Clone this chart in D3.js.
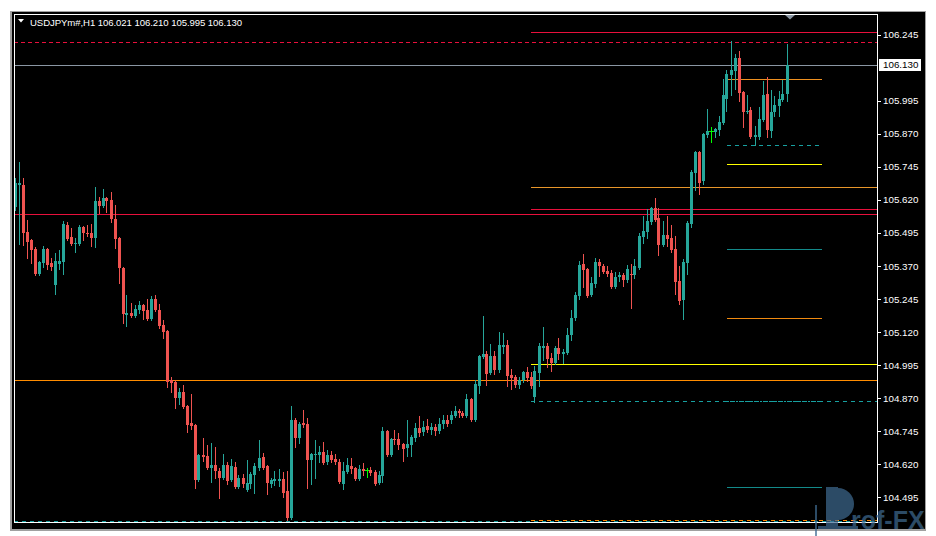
<!DOCTYPE html>
<html><head><meta charset="utf-8">
<script src="https://cdn.jsdelivr.net/npm/d3@7/dist/d3.min.js"></script>
<style>
html,body{margin:0;padding:0;background:#ffffff;}
svg{display:block;}
</style></head>
<body><svg id="c" width="936" height="536"></svg>
<script>
// ---------------- data ----------------
const symbolTitle = "USDJPYm#,H1  106.021 106.210 105.995 106.130";
const opens = [105.593,105.676,105.676,105.498,105.468,105.434,105.339,105.379,105.434,105.381,105.297,105.377,105.384,105.525,105.479,105.453,105.453,105.517,105.494,105.494,
105.476,105.615,105.596,105.627,105.619,105.547,105.476,105.362,105.184,105.192,105.180,105.203,105.222,105.203,105.169,105.245,105.203,105.146,105.124,104.938,
104.930,104.870,104.892,104.839,104.775,104.768,104.560,104.654,104.650,104.605,104.616,104.593,104.567,104.616,104.560,104.608,104.533,104.567,104.522,104.544,
104.578,104.605,104.646,104.612,104.544,104.556,104.556,104.563,104.518,104.416,104.787,104.718,104.775,104.772,104.635,104.654,104.654,104.665,104.627,104.654,
104.639,104.627,104.544,104.590,104.612,104.605,104.563,104.601,104.597,104.597,104.590,104.548,104.575,104.745,104.654,104.715,104.715,104.696,104.680,104.692,
104.718,104.756,104.741,104.764,104.749,104.760,104.745,104.772,104.787,104.787,104.802,104.821,104.813,104.802,104.866,104.787,104.915,105.025,105.036,104.965,
105.029,104.976,105.063,105.071,104.957,104.949,104.919,104.938,104.968,104.949,104.874,104.965,105.059,105.067,105.021,105.002,105.059,105.036,105.040,105.108,
105.173,105.256,105.377,105.358,105.260,105.301,105.384,105.369,105.350,105.343,105.290,105.328,105.335,105.317,105.339,105.335,105.362,105.479,105.498,105.536,
105.589,105.551,105.449,105.487,105.476,105.434,105.313,105.241,105.381,105.529,105.721,105.801,105.691,105.865,105.880,105.877,105.884,105.911,106.002,106.092,
106.108,106.157,106.028,105.952,105.960,105.858,105.858,105.922,106.021,105.880,105.952,105.975,105.998,106.021];
const highs = [105.703,105.763,105.703,105.544,105.473,105.442,105.388,105.445,105.438,105.400,105.419,105.430,105.540,105.536,105.513,105.476,105.525,105.521,105.525,105.529,
105.668,105.630,105.661,105.630,105.649,105.600,105.479,105.365,105.260,105.230,105.222,105.237,105.226,105.245,105.256,105.260,105.226,105.165,105.127,104.949,
104.938,104.908,104.919,104.843,104.885,104.772,104.657,104.718,104.692,104.699,104.684,104.605,104.658,104.627,104.639,104.627,104.578,104.582,104.635,104.590,
104.624,104.711,104.661,104.616,104.567,104.593,104.601,104.590,104.593,104.840,104.794,104.779,104.824,104.794,104.661,104.711,104.688,104.703,104.673,104.669,
104.658,104.639,104.627,104.643,104.643,104.608,104.616,104.624,104.605,104.608,104.597,104.593,104.760,104.749,104.718,104.749,104.737,104.699,104.787,104.730,
104.775,104.802,104.783,104.790,104.775,104.772,104.794,104.806,104.806,104.821,104.840,104.828,104.821,104.885,104.870,104.938,105.033,105.180,105.048,105.074,
105.048,105.120,105.116,105.089,104.980,104.957,104.949,104.972,104.987,104.968,104.991,105.078,105.139,105.078,105.040,105.067,105.097,105.055,105.135,105.203,
105.271,105.388,105.415,105.362,105.328,105.400,105.396,105.377,105.369,105.354,105.347,105.347,105.343,105.373,105.377,105.396,105.494,105.559,105.585,105.593,
105.627,105.589,105.540,105.559,105.525,105.483,105.369,105.396,105.540,105.733,105.805,105.805,105.873,105.964,105.896,105.892,105.937,106.077,106.111,106.221,
106.172,106.183,106.032,106.017,105.971,105.899,105.971,106.070,106.085,106.036,106.013,106.032,106.074,106.210];
const lows = [105.581,105.453,105.449,105.401,105.382,105.335,105.335,105.364,105.358,105.354,105.264,105.358,105.339,105.468,105.449,105.422,105.449,105.468,105.483,105.445,
105.442,105.570,105.593,105.574,105.536,105.438,105.305,105.154,105.142,105.177,105.177,105.192,105.169,105.165,105.165,105.199,105.135,105.097,104.911,104.892,
104.832,104.847,104.832,104.741,104.753,104.529,104.557,104.631,104.601,104.552,104.567,104.491,104.563,104.544,104.556,104.529,104.529,104.533,104.518,104.529,
104.510,104.597,104.601,104.507,104.533,104.541,104.537,104.495,104.408,104.412,104.684,104.699,104.760,104.529,104.544,104.567,104.627,104.620,104.620,104.627,
104.620,104.548,104.525,104.586,104.586,104.560,104.560,104.578,104.571,104.578,104.541,104.544,104.552,104.650,104.650,104.696,104.677,104.631,104.650,104.650,
104.707,104.726,104.730,104.741,104.734,104.730,104.737,104.756,104.764,104.775,104.798,104.798,104.798,104.798,104.783,104.783,104.889,105.021,104.919,104.961,
104.961,104.968,105.040,104.915,104.904,104.911,104.908,104.930,104.934,104.908,104.855,104.915,105.014,104.987,104.972,104.999,105.017,105.002,105.036,105.089,
105.165,105.245,105.290,105.252,105.256,105.290,105.331,105.343,105.331,105.286,105.286,105.313,105.294,105.309,105.211,105.324,105.358,105.457,105.476,105.529,
105.540,105.411,105.445,105.445,105.422,105.264,105.226,105.169,105.339,105.517,105.657,105.642,105.680,105.858,105.839,105.858,105.865,105.907,105.956,106.017,
106.040,105.994,105.896,105.949,105.854,105.827,105.850,105.918,105.858,105.858,105.937,105.937,105.995,105.995];
const closes = [105.684,105.682,105.496,105.460,105.430,105.339,105.384,105.434,105.373,105.365,105.388,105.388,105.529,105.472,105.453,105.457,105.517,105.494,105.490,105.476,
105.615,105.596,105.627,105.615,105.547,105.472,105.362,105.188,105.192,105.180,105.207,105.222,105.199,105.169,105.245,105.203,105.142,105.120,104.930,104.926,
104.870,104.892,104.836,104.768,104.764,104.560,104.654,104.646,104.605,104.616,104.593,104.567,104.616,104.556,104.612,104.533,104.567,104.544,104.548,104.582,
104.612,104.643,104.605,104.548,104.560,104.563,104.563,104.510,104.416,104.787,104.718,104.772,104.768,104.635,104.658,104.658,104.665,104.624,104.654,104.635,
104.627,104.552,104.593,104.616,104.601,104.563,104.601,104.593,104.597,104.586,104.544,104.578,104.745,104.654,104.715,104.711,104.692,104.677,104.696,104.722,
104.756,104.737,104.760,104.749,104.760,104.745,104.772,104.787,104.772,104.806,104.821,104.813,104.802,104.866,104.787,104.923,105.029,105.036,104.961,105.029,
104.976,105.071,105.071,104.953,104.946,104.919,104.938,104.968,104.946,104.915,104.972,105.067,105.067,105.017,105.002,105.059,105.036,105.044,105.108,105.173,
105.260,105.373,105.354,105.256,105.305,105.384,105.369,105.347,105.339,105.290,105.328,105.335,105.317,105.358,105.335,105.369,105.483,105.502,105.540,105.589,
105.544,105.449,105.487,105.472,105.430,105.309,105.237,105.384,105.532,105.725,105.801,105.684,105.869,105.880,105.880,105.888,105.915,106.017,106.096,106.111,
106.157,106.024,105.952,105.956,105.858,105.865,105.926,106.017,105.884,105.952,105.979,106.002,106.021,106.130];

const priceTicks = [106.245,105.995,105.870,105.745,105.620,105.495,105.370,105.245,105.120,104.995,104.870,104.745,104.620,104.495];
const bidPrice = 106.130;

// horizontal levels: price, start index (null = whole chart), end index (null = right edge), color, dash
const levelPrices = [106.254,106.218,106.130,106.076,105.829,105.754,105.667,105.586,105.566,105.433,105.172,104.997,104.937,104.857,104.857,104.533,104.409,104.406];
const levelStarts = [128.9,null,null,177.9,177.9,177.9,128.9,128.9,null,177.9,177.9,128.9,null,128.9,177.9,177.9,128.9,null];
const levelEnds   = [null,null,null,201.6,201.6,201.6,null,null,null,201.6,201.6,null,null,null,201.6,201.6,null,null];
const levelColors = ["#e8103c","#e8103c","#8a96a3","#ee9020","#17a0a0","#ffff00","#e8962a","#e8103c","#e8103c","#138a8a","#f08a10","#ffff00","#ff8c00","#17a0a0","#17a0a0","#138a8a","#ff8c00","#17a0a0"];
const levelDashes = ["", "4,3", "", "", "4,4", "", "", "", "", "", "", "", "", "4,4", "2,1", "", "4,4", "4,4"];

// ---------------- drawing ----------------
const svg = d3.select("#c");
const W = 936, H = 536;
const plot = {l:14, t:14, r:877, b:522};

svg.append("rect").attr("x",0).attr("y",0).attr("width",W).attr("height",H).attr("fill","#ffffff");
svg.append("rect").attr("x",10).attr("y",11).attr("width",916).attr("height",520).attr("fill","#a0a0a0");
svg.append("rect").attr("x",12).attr("y",12).attr("width",913).attr("height",517).attr("fill","#000000");

const x = d3.scaleLinear().domain([0, opens.length-1]).range([15.5, 787.5]);
const y = d3.scaleLinear().domain([104.4005, 106.3233]).range([plot.b, plot.t]);

svg.append("clipPath").attr("id","pc").append("rect")
  .attr("x",plot.l+1).attr("y",plot.t+1).attr("width",plot.r-plot.l-1).attr("height",plot.b-plot.t-1);
const g = svg.append("g").attr("clip-path","url(#pc)").attr("shape-rendering","crispEdges");

// levels
levelPrices.forEach((p,i)=>{
  const yy = Math.round(y(p))+0.5;
  const x0 = levelStarts[i]==null ? plot.l : x(levelStarts[i]);
  const x1 = levelEnds[i]==null ? plot.r : x(levelEnds[i]);
  g.append("line").attr("x1",x0).attr("x2",x1).attr("y1",yy).attr("y2",yy)
    .attr("stroke",levelColors[i]).attr("stroke-width",1)
    .attr("stroke-dasharray",levelDashes[i]||null);
});

// candles
const bull="#26a69a", bear="#ef5350", doji="#00ff00";
const candles = opens.map((o,i)=>({i,o,h:highs[i],l:lows[i],c:closes[i]}));
const cg = g.selectAll("g.cd").data(candles).join("g").attr("class","cd");
const col = d => d.c===d.o ? doji : (d.c>d.o ? bull : bear);
cg.append("line")
  .attr("x1",d=>Math.round(x(d.i))-0.5).attr("x2",d=>Math.round(x(d.i))-0.5)
  .attr("y1",d=>Math.round(y(d.h))).attr("y2",d=>Math.round(y(d.l))+1)
  .attr("stroke",col).attr("stroke-width",1);
cg.append("rect")
  .attr("x",d=>Math.round(x(d.i))-2).attr("width",3)
  .attr("y",d=>Math.round(y(Math.max(d.o,d.c))))
  .attr("height",d=>Math.max(1,Math.round(y(Math.min(d.o,d.c)))-Math.round(y(Math.max(d.o,d.c)))))
  .attr("fill",col);
cg.filter(d=>d.c===d.o).append("line")
  .attr("x1",d=>Math.round(x(d.i))-3).attr("x2",d=>Math.round(x(d.i))+2)
  .attr("y1",d=>Math.round(y(d.o))+0.5).attr("y2",d=>Math.round(y(d.o))+0.5)
  .attr("stroke",doji);

// frame
const fr = svg.append("g").attr("shape-rendering","crispEdges");
fr.append("line").attr("x1",plot.l+0.5).attr("x2",plot.l+0.5).attr("y1",plot.t).attr("y2",plot.b+1).attr("stroke","#fff");
fr.append("line").attr("x1",plot.l).attr("x2",plot.r+1).attr("y1",plot.t+0.5).attr("y2",plot.t+0.5).attr("stroke","#fff");
fr.append("line").attr("x1",plot.r+0.5).attr("x2",plot.r+0.5).attr("y1",plot.t).attr("y2",plot.b+1).attr("stroke","#fff");
fr.append("line").attr("x1",plot.l).attr("x2",plot.r+1).attr("y1",plot.b+0.5).attr("y2",plot.b+0.5).attr("stroke","#fff");

// price axis
const axis = d3.axisRight(y).tickValues(priceTicks).tickSize(4).tickPadding(2).tickFormat(d3.format(".3f"));
const ag = svg.append("g").attr("transform",`translate(${plot.r},0)`).call(axis);
ag.select(".domain").remove();
ag.selectAll(".tick line").attr("stroke","#fff").attr("shape-rendering","crispEdges");
ag.selectAll(".tick text").attr("fill","#fff").attr("font-family","'Liberation Sans',Arial,sans-serif").attr("font-size","9.8px");

// bid label
const by = y(bidPrice);
svg.append("rect").attr("x",plot.r+2).attr("y",Math.round(by)-6).attr("width",42).attr("height",12).attr("fill","#fff");
svg.append("text").attr("x",plot.r+6).attr("y",by).attr("dy","0.35em").attr("fill","#000")
  .attr("font-family","'Liberation Sans',Arial,sans-serif").attr("font-size","9.8px").text(d3.format(".3f")(bidPrice));

// title
svg.append("path").attr("d","M18,19 L24,19 L21,22.5 Z").attr("fill","#fff");
svg.append("text").attr("x",30).attr("y",25.5).attr("fill","#fff")
  .attr("font-family","'Liberation Sans',Arial,sans-serif").attr("font-size","9.6px")
  .attr("textLength",212).attr("lengthAdjust","spacing").text(symbolTitle);

// chart shift marker
svg.append("path").attr("d","M785,15 L795,15 L790,19.5 Z").attr("fill","#8a96a3");

// watermark
const wm = svg.append("g").attr("opacity",0.7).attr("fill","#3f6b92");
wm.append("rect").attr("x",826).attr("y",487).attr("width",12).attr("height",40);
wm.append("path").attr("d","M838,488 A16,16 0 0 1 838,520 Z");
wm.append("rect").attr("x",815).attr("y",505).attr("width",2).attr("height",31);
wm.append("rect").attr("x",818).attr("y",526).attr("width",40).attr("height",3);
wm.append("text").attr("x",851).attr("y",529)
  .attr("font-family","'Liberation Sans',Arial,sans-serif").attr("font-weight","bold").attr("font-size","25px").text("rof-FX");
</script></body></html>
